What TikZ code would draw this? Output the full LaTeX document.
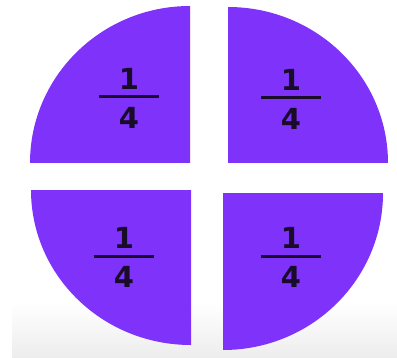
\documentclass[tikz,border=0pt]{standalone}
\usepackage{fontspec}
\setmainfont{DejaVu Sans}
\usepackage{xcolor}
\usetikzlibrary{positioning}

\definecolor{quarterpurple}{RGB}{127,50,250}
\definecolor{digitdark}{RGB}{25,12,40}

\tikzset{
	quarter/.style={fill=quarterpurple},
	fracbar/.style={fill=digitdark, minimum width=60pt, minimum height=3pt, inner sep=0pt},
	digit/.style={text=digitdark, inner sep=0pt, font=\fontsize{29}{32}\selectfont\bfseries}
}

\begin{document}
\begin{tikzpicture}[x=1pt, y=1pt]
		\useasboundingbox (0,0) rectangle (397,357);
		\shade[top color=white, bottom color=black!7] (12,0) rectangle (397,55);

		% the four quarters
		\fill[quarter] (190,194) -- (30,194) arc[start angle=180, end angle=90, x radius=160, y radius=157] -- cycle;
		\fill[quarter] (228,194) -- (228,350) arc[start angle=90, end angle=0, x radius=160, y radius=156] -- cycle;
		\fill[quarter] (191,167) -- (31,167) arc[start angle=180, end angle=270, x radius=160, y radius=155] -- cycle;
		\fill[quarter] (223,164) -- (223,7) arc[start angle=270, end angle=360, x radius=160, y radius=157] -- cycle;

		% fractions
		\node[fracbar] (tlbar) at (129,260) {};
		\node[digit, above=6pt of tlbar] (tlnum) {1};
		\node[digit, below=8pt of tlbar] (tlden) {4};

		\node[fracbar] (trbar) at (291,259) {};
		\node[digit, above=6pt of trbar] (trnum) {1};
		\node[digit, below=8pt of trbar] (trden) {4};

		\node[fracbar] (blbar) at (124,101) {};
		\node[digit, above=6pt of blbar] (blnum) {1};
		\node[digit, below=8pt of blbar] (blden) {4};

		\node[fracbar] (brbar) at (291,101) {};
		\node[digit, above=6pt of brbar] (brnum) {1};
		\node[digit, below=8pt of brbar] (brden) {4};
	\end{tikzpicture}
\end{document}
